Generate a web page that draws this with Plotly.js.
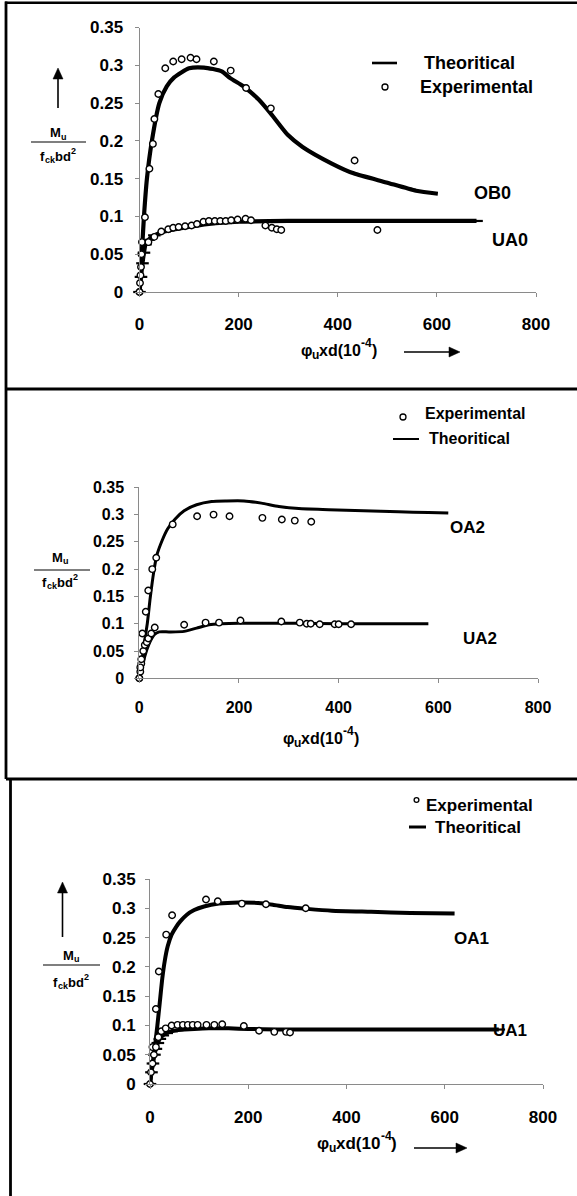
<!DOCTYPE html>
<html>
<head>
<meta charset="utf-8">
<script src="https://cdn.plot.ly/plotly-3.0.1.min.js"></script>
<style>html,body{margin:0;padding:0;background:#fff;}#chart{width:577px;height:1196px;}</style>
</head>
<body>
<div id="chart"></div>
<script>
// ---------- data ----------
const xTicks = [0, 200, 400, 600, 800];
const xTickText = ['0', '200', '400', '600', '800'];
const yTicks = [0, 0.05, 0.1, 0.15, 0.2, 0.25, 0.3, 0.35];
const yTickText = ['0', '0.05', '0.1', '0.15', '0.2', '0.25', '0.3', '0.35'];

// Panel 1
const ob0TheoX = [0, 9, 15, 25, 40, 55, 70, 100, 130, 166, 183, 210, 240, 265, 299, 329, 388, 432, 498, 558, 602];
const ob0TheoY = [0, 0.1, 0.15, 0.2, 0.25, 0.272, 0.284, 0.296, 0.297, 0.292, 0.283, 0.272, 0.255, 0.236, 0.208, 0.192, 0.17, 0.157, 0.145, 0.134, 0.13];
const ob0ExpX = [0, 11, 20, 27, 30, 38, 52, 68, 85, 103, 115, 150, 184, 215, 265, 434];
const ob0ExpY = [0, 0.099, 0.163, 0.196, 0.229, 0.262, 0.296, 0.305, 0.308, 0.31, 0.308, 0.305, 0.293, 0.27, 0.243, 0.174];
const ua0TheoX = [0, 3, 6, 9, 12, 18, 30, 50, 90, 140, 200, 300, 400, 500, 600, 680];
const ua0TheoY = [0, 0.02, 0.038, 0.052, 0.063, 0.069, 0.075, 0.08, 0.085, 0.09, 0.093, 0.094, 0.094, 0.094, 0.094, 0.094];
const ua0ExpX = [0, 1, 2, 3, 4, 5, 18, 30, 44, 58, 68, 79, 92, 105, 116, 129, 140, 152, 163, 174, 185, 198, 214, 225, 254, 267, 277, 286, 480];
const ua0ExpY = [0, 0.012, 0.022, 0.033, 0.05, 0.066, 0.066, 0.073, 0.08, 0.083, 0.085, 0.086, 0.087, 0.088, 0.09, 0.093, 0.094, 0.094, 0.094, 0.094, 0.095, 0.096, 0.097, 0.095, 0.088, 0.085, 0.083, 0.082, 0.082];

// Panel 2
const oa2TheoX = [0, 5, 10, 16, 22, 29, 35, 46, 57, 72, 90, 115, 145, 175, 210, 245, 280, 320, 380, 450, 520, 580, 620];
const oa2TheoY = [0, 0.03, 0.065, 0.1, 0.148, 0.195, 0.225, 0.253, 0.274, 0.292, 0.307, 0.318, 0.324, 0.325, 0.325, 0.321, 0.315, 0.311, 0.309, 0.307, 0.305, 0.304, 0.303];
const oa2ExpX = [0, 2, 4, 6, 13, 18, 26, 34, 67, 116, 149, 181, 247, 286, 312, 345];
const oa2ExpY = [0, 0.012, 0.027, 0.082, 0.122, 0.161, 0.2, 0.221, 0.282, 0.297, 0.3, 0.297, 0.294, 0.291, 0.289, 0.287];
const ua2TheoX = [0, 5, 11, 20, 30, 40, 60, 90, 115, 140, 165, 200, 260, 320, 400, 480, 580];
const ua2TheoY = [0, 0.015, 0.04, 0.064, 0.08, 0.085, 0.085, 0.086, 0.092, 0.098, 0.1, 0.101, 0.101, 0.101, 0.1, 0.1, 0.1];
const ua2ExpX = [0, 2, 4, 8, 11, 15, 18, 24, 31, 90, 133, 160, 203, 285, 322, 336, 344, 362, 392, 400, 425];
const ua2ExpY = [0, 0.02, 0.035, 0.05, 0.061, 0.066, 0.073, 0.082, 0.093, 0.098, 0.102, 0.102, 0.106, 0.104, 0.102, 0.1, 0.1, 0.099, 0.099, 0.099, 0.099];

// Panel 3
const oa1TheoX = [0, 8, 15, 20, 25, 30, 36, 44, 53, 62, 75, 90, 110, 140, 180, 220, 250, 280, 320, 370, 450, 530, 620];
const oa1TheoY = [0, 0.05, 0.1, 0.14, 0.18, 0.21, 0.235, 0.255, 0.268, 0.278, 0.289, 0.297, 0.303, 0.308, 0.31, 0.309, 0.306, 0.302, 0.299, 0.296, 0.294, 0.292, 0.291];
const oa1ExpX = [0, 5, 12, 18, 33, 45, 114, 138, 187, 236, 317];
const oa1ExpY = [0, 0.063, 0.128, 0.192, 0.255, 0.288, 0.315, 0.312, 0.308, 0.307, 0.3];
const ua1TheoX = [0, 3, 6, 9, 12, 16, 20, 26, 34, 44, 56, 70, 90, 120, 160, 200, 260, 320, 400, 500, 600, 710];
const ua1TheoY = [0, 0.02, 0.035, 0.05, 0.06, 0.07, 0.077, 0.083, 0.087, 0.09, 0.092, 0.093, 0.094, 0.095, 0.095, 0.094, 0.093, 0.093, 0.093, 0.093, 0.093, 0.093];
const ua1ExpX = [2, 5, 8, 12, 17, 23, 32, 44, 56, 67, 77, 87, 97, 115, 131, 147, 191, 222, 253, 277, 285];
const ua1ExpY = [0.02, 0.035, 0.05, 0.063, 0.08, 0.09, 0.095, 0.1, 0.101, 0.101, 0.101, 0.101, 0.101, 0.101, 0.101, 0.102, 0.099, 0.091, 0.089, 0.089, 0.088];

const seriesLabels = ['OB0', 'UA0', 'OA2', 'UA2', 'OA1', 'UA1'];
// title pieces: [text, role] (role: n = normal, sub = subscript, sup = superscript)
const yTitleTop = [['M', 'n'], ['u', 'sub']];
const yTitleBottom = [['f', 'n'], ['ck', 'sub'], ['bd', 'n'], ['2', 'sup']];
const xTitle = [['φ', 'n'], ['u', 'sub'], ['xd(10', 'n'], ['-4', 'sup'], [')', 'n']];

// ---------- layout helpers ----------
const W = 577, H = 1196;
const FONT = 'Liberation Sans, Arial, Helvetica, sans-serif';
const px = v => v / W;
const py = v => 1 - v / H;
const ctx = document.createElement('canvas').getContext('2d');
function textWidth(s, fs) { ctx.font = 'bold ' + fs + 'px "Liberation Sans", Arial, sans-serif'; return ctx.measureText(s).width; }

function theo(x, y, xa, ya, w, dashes) {
  const t = {x: x, y: y, xaxis: xa, yaxis: ya, type: 'scatter', mode: dashes ? 'lines+markers' : 'lines',
    line: {color: '#000', width: w, shape: 'spline', smoothing: 0.6}, showlegend: false, cliponaxis: false, hoverinfo: 'skip'};
  if (dashes) t.marker = {symbol: 'line-ew-open', size: 9, color: '#000', line: {color: '#000', width: 2.2}};
  return t;
}
function expt(x, y, xa, ya) {
  return {x: x, y: y, xaxis: xa, yaxis: ya, type: 'scatter', mode: 'markers',
    marker: {symbol: 'circle', size: 6.5, color: '#fff', line: {color: '#000', width: 1.4}},
    showlegend: false, cliponaxis: false, hoverinfo: 'skip'};
}

const data = [
  theo(ob0TheoX, ob0TheoY, 'x', 'y', 4.2, false),
  theo(ua0TheoX, ua0TheoY, 'x', 'y', 4.2, true),
  expt(ob0ExpX, ob0ExpY, 'x', 'y'),
  expt(ua0ExpX, ua0ExpY, 'x', 'y'),
  theo(oa2TheoX, oa2TheoY, 'x2', 'y2', 3, false),
  theo(ua2TheoX, ua2TheoY, 'x2', 'y2', 3, false),
  expt(oa2ExpX, oa2ExpY, 'x2', 'y2'),
  expt(ua2ExpX, ua2ExpY, 'x2', 'y2'),
  theo(oa1TheoX, oa1TheoY, 'x3', 'y3', 4, false),
  theo(ua1TheoX, ua1TheoY, 'x3', 'y3', 4, true),
  expt(oa1ExpX, oa1ExpY, 'x3', 'y3'),
  expt(ua1ExpX, ua1ExpY, 'x3', 'y3')
];

function xax(x0, x1, anchor, fs, standoff) {
  return {domain: [px(x0), px(x1)], anchor: anchor, range: [0, 800], tickvals: xTicks, ticktext: xTickText,
    showline: true, linecolor: '#8a8a8a', linewidth: 1, ticks: 'outside', ticklen: 4, tickcolor: '#8a8a8a',
    showgrid: false, zeroline: false, fixedrange: true, ticklabelstandoff: standoff,
    tickfont: {family: FONT, size: fs, color: '#000', weight: 'bold'}};
}
function yax(y0, y1, anchor, fs, standoff) {
  return {domain: [py(y0), py(y1)], anchor: anchor, range: [0, 0.35], tickvals: yTicks, ticktext: yTickText,
    showline: true, linecolor: '#8a8a8a', linewidth: 1, ticks: 'outside', ticklen: 4, tickcolor: '#8a8a8a',
    showgrid: false, zeroline: false, fixedrange: true, ticklabelstandoff: standoff,
    tickfont: {family: FONT, size: fs, color: '#000', weight: 'bold'}};
}

const shapes = [];
const annotations = [];
function hline(x0, x1, y, w) {
  shapes.push({type: 'line', xref: 'paper', yref: 'paper', x0: px(x0), x1: px(x1), y0: py(y), y1: py(y), line: {color: '#000', width: w}});
}
function vline(x, y0, y1, w) {
  shapes.push({type: 'line', xref: 'paper', yref: 'paper', x0: px(x), x1: px(x), y0: py(y0), y1: py(y1), line: {color: '#000', width: w}});
}
function circ(cx, cy, r) {
  shapes.push({type: 'circle', xref: 'paper', yref: 'paper', x0: px(cx - r), x1: px(cx + r), y0: py(cy + r), y1: py(cy - r),
    line: {color: '#000', width: 1.3}, fillcolor: '#fff'});
}
function tri(p) {
  const d = 'M' + p.map(q => px(q[0]) + ',' + py(q[1])).join(' L') + ' Z';
  shapes.push({type: 'path', xref: 'paper', yref: 'paper', path: d, fillcolor: '#000', line: {color: '#000', width: 0.5}});
}
function upArrow(x, tipY, tailY) {
  vline(x, tipY + 8, tailY, 1.6);
  tri([[x, tipY], [x - 5, tipY + 11], [x + 5, tipY + 11]]);
}
function rightArrow(tailX, tipX, y) {
  hline(tailX, tipX - 8, y, 1.6);
  tri([[tipX, y], [tipX - 11, y - 5], [tipX - 11, y + 5]]);
}
function text(t, x, y, fs, xanchor) {
  annotations.push({text: t, xref: 'paper', yref: 'paper', x: px(x), y: py(y), xanchor: xanchor || 'center', yanchor: 'middle',
    showarrow: false, font: {family: FONT, size: fs, color: '#000', weight: 'bold'}, borderpad: 0, borderwidth: 0});
}
// lays out a run of text pieces centred at (cx, cy)
function runs(pieces, cx, cy, fs) {
  const small = Math.round(fs * 0.72);
  const items = pieces.map(p => {
    const s = p[1] === 'n' ? fs : small;
    return {t: p[0], s: s, dy: p[1] === 'sub' ? fs * 0.32 : (p[1] === 'sup' ? -fs * 0.42 : 0), w: textWidth(p[0], s)};
  });
  const total = items.reduce((a, b) => a + b.w, 0);
  let x = cx - total / 2;
  items.forEach(it => { text(it.t, x, cy + it.dy, it.s, 'left'); x += it.w; });
}
function fraction(cx, cyTop, x0, x1, yLine, cyBot, fs) {
  runs(yTitleTop, cx, cyTop, fs);
  hline(x0, x1, yLine, 1.2);
  runs(yTitleBottom, cx, cyBot, fs);
}

// panel borders
hline(5, 590, 2.8, 2.4);
vline(6, 1.5, 779, 2.8);
hline(6, 590, 389, 3);
hline(6, 590, 779, 3);
vline(10.5, 779, 1205, 2.8);

// Panel 1 decorations
hline(372, 397, 63, 2.6);
text('Theoritical', 424, 63, 18, 'left');
circ(385, 87, 3);
text('Experimental', 420, 87, 18, 'left');
text(seriesLabels[0], 492, 193, 18);
text(seriesLabels[1], 510, 240, 18);
upArrow(58, 68, 108);
fraction(58, 133, 31, 86, 142, 156, 13);
runs(xTitle, 339, 350, 16);
rightArrow(404, 460, 352);

// Panel 2 decorations
circ(403, 417, 3);
text('Experimental', 425, 413, 16, 'left');
hline(393, 419, 439, 2);
text('Theoritical', 429, 439, 16, 'left');
text(seriesLabels[2], 467, 528, 17);
text(seriesLabels[3], 480, 638, 17);
fraction(60, 557, 34, 90, 570, 582, 13);
runs(xTitle, 321, 738, 16);

// Panel 3 decorations
circ(416.5, 800, 2.4);
text('Experimental', 426, 805, 17, 'left');
hline(409, 426, 827, 3);
text('Theoritical', 435, 827, 17, 'left');
text(seriesLabels[4], 471, 938, 17);
text(seriesLabels[5], 510, 1030, 17);
upArrow(62.5, 882, 937);
fraction(71, 955, 43, 100, 965, 982, 13);
runs(xTitle, 357, 1143, 17);
rightArrow(414, 467, 1148);

const layout = {
  width: W, height: H, margin: {l: 0, r: 0, t: 0, b: 0},
  paper_bgcolor: '#fff', plot_bgcolor: 'rgba(0,0,0,0)', showlegend: false,
  font: {family: FONT, color: '#000'},
  xaxis: xax(139.5, 536, 'y', 17, 13),
  yaxis: yax(292, 27.5, 'x', 17, 8),
  xaxis2: xax(139.3, 538, 'y2', 16, 10),
  yaxis2: yax(678.3, 487.3, 'x2', 16, 7),
  xaxis3: xax(150, 543, 'y3', 17, 14),
  yaxis3: yax(1084, 879, 'x3', 17, 6),
  shapes: shapes,
  annotations: annotations
};

Plotly.newPlot('chart', data, layout, {staticPlot: true, displayModeBar: false});
</script>
</body>
</html>
